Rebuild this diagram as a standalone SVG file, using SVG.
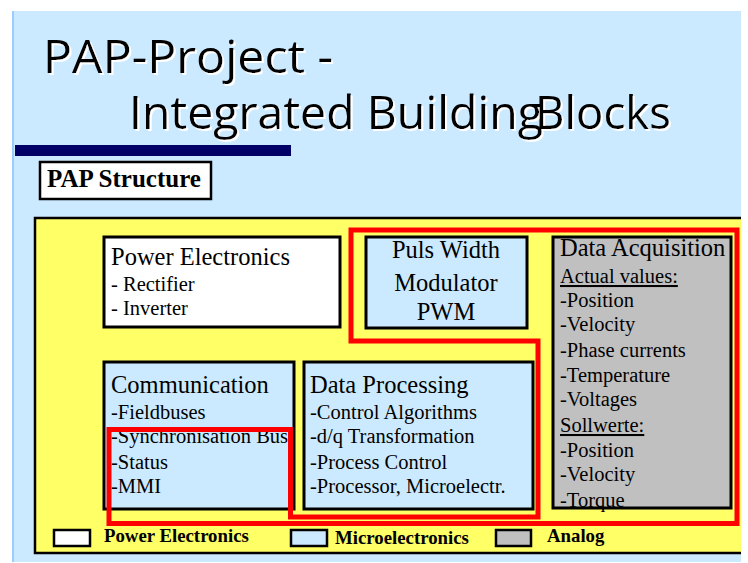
<svg xmlns="http://www.w3.org/2000/svg" width="748" height="563" viewBox="0 0 748 563">
  <defs>
    <style>
      .title { font-family: "Open Sans", "Liberation Sans", Arial, sans-serif; font-weight: 400; font-size: 46px; fill: #000; }
      .h { font-family: "Liberation Serif", "Times New Roman", serif; font-size: 24.5px; fill: #000; }
      .t { font-family: "Liberation Serif", "Times New Roman", serif; font-size: 20.5px; fill: #000; }
      .b { font-family: "Liberation Serif", "Times New Roman", serif; font-weight: bold; fill: #000; }
      .box { stroke: #000; stroke-width: 3; }
      .lg { stroke: #000; stroke-width: 2.5; }
      .white { fill: #ffffff; }
      .blue { fill: #cceaff; }
      .gray { fill: #c0c0c0; }
      .red { fill: none; stroke: #ff0000; stroke-width: 5; stroke-linejoin: miter; }
    </style>
    <filter id="sh" x="-5%" y="-5%" width="110%" height="120%">
      <feDropShadow dx="2" dy="2" stdDeviation="0" flood-color="#ffffff" flood-opacity="1"/>
    </filter>
    <clipPath id="commClip"><rect x="105" y="363" width="187" height="145"/></clipPath>
  </defs>

  <!-- slide background -->
  <rect x="0" y="0" width="748" height="563" fill="#ffffff"/>
  <rect x="12" y="11" width="729" height="551" fill="#cceaff"/>
  <rect x="12" y="11" width="2" height="551" fill="#99ccff"/>

  <!-- title -->
  <g id="title" filter="url(#sh)">
    <text class="title" x="43" y="73" textLength="290" lengthAdjust="spacingAndGlyphs">PAP-Project -</text>
    <text class="title" x="129" y="129" textLength="414" lengthAdjust="spacingAndGlyphs">Integrated Building</text>
    <text class="title" x="535" y="129" textLength="136" lengthAdjust="spacingAndGlyphs">Blocks</text>
  </g>
  <rect x="15" y="145" width="276" height="11" fill="#000066"/>

  <g id="pap-structure">
    <rect x="40" y="162" width="171" height="37" fill="#ffffff" stroke="#000" stroke-width="2.5"/>
    <text class="b" x="47" y="187" font-size="25">PAP Structure</text>
  </g>

  <!-- yellow panel -->
  <g id="panel">
    <rect x="35" y="218" width="706" height="335" fill="#ffff66"/>
    <path d="M741,218 H35 V553 H741" fill="none" stroke="#000" stroke-width="2.5"/>
  </g>

  <g id="power-electronics">
    <rect class="box white" x="104" y="237" width="236" height="90"/>
    <text class="h" x="111" y="265">Power Electronics</text>
    <text class="t" x="111" y="291">- Rectifier</text>
    <text class="t" x="111" y="315">- Inverter</text>
  </g>

  <g id="pwm">
    <rect class="box blue" x="366" y="237" width="161" height="91"/>
    <text class="h" x="446" y="258" text-anchor="middle">Puls Width</text>
    <text class="h" x="446" y="291" text-anchor="middle">Modulator</text>
    <text class="h" x="446" y="320" text-anchor="middle">PWM</text>
  </g>

  <g id="data-acquisition">
    <rect class="box gray" x="553" y="237" width="178" height="271"/>
    <text class="h" x="560" y="256" font-size="24">Data Acquisition</text>
    <text class="t" x="560" y="283" text-decoration="underline">Actual values:</text>
    <text class="t" x="560" y="307">-Position</text>
    <text class="t" x="560" y="331">-Velocity</text>
    <text class="t" x="560" y="357">-Phase currents</text>
    <text class="t" x="560" y="382">-Temperature</text>
    <text class="t" x="560" y="406">-Voltages</text>
    <text class="t" x="560" y="432" text-decoration="underline">Sollwerte:</text>
    <text class="t" x="560" y="457">-Position</text>
    <text class="t" x="560" y="481">-Velocity</text>
    <text class="t" x="560" y="507">-Torque</text>
  </g>

  <g id="communication">
    <rect class="box blue" x="104" y="362" width="190" height="147"/>
    <text class="h" x="111" y="393">Communication</text>
    <g clip-path="url(#commClip)">
      <text class="t" x="111" y="419">-Fieldbuses</text>
      <text class="t" x="111" y="443">-Synchronisation Bus</text>
      <text class="t" x="111" y="469">-Status</text>
      <text class="t" x="111" y="493">-MMI</text>
    </g>
  </g>

  <g id="data-processing">
    <rect class="box blue" x="304" y="362" width="229" height="147"/>
    <text class="h" x="310" y="393">Data Processing</text>
    <text class="t" x="310" y="419">-Control Algorithms</text>
    <text class="t" x="310" y="443">-d/q Transformation</text>
    <text class="t" x="310" y="469">-Process Control</text>
    <text class="t" x="310" y="493">-Processor, Microelectr.</text>
  </g>

  <!-- red outline -->
  <g id="connectors">
    <path class="red" d="M351,230 H737 V523.5 H109 V429.5 H290.5 V517 H538 V341 H351 Z"/>
  </g>

  <!-- legend -->
  <g id="legend">
    <rect class="lg white" x="54" y="530" width="36" height="16"/>
    <text class="b" x="104" y="542" font-size="18.8">Power Electronics</text>
    <rect class="lg blue" x="291" y="530" width="36" height="16"/>
    <text class="b" x="335" y="544" font-size="18.8">Microelectronics</text>
    <rect class="lg gray" x="496" y="530" width="35" height="16"/>
    <text class="b" x="547" y="542" font-size="18.8">Analog</text>
  </g>
</svg>
